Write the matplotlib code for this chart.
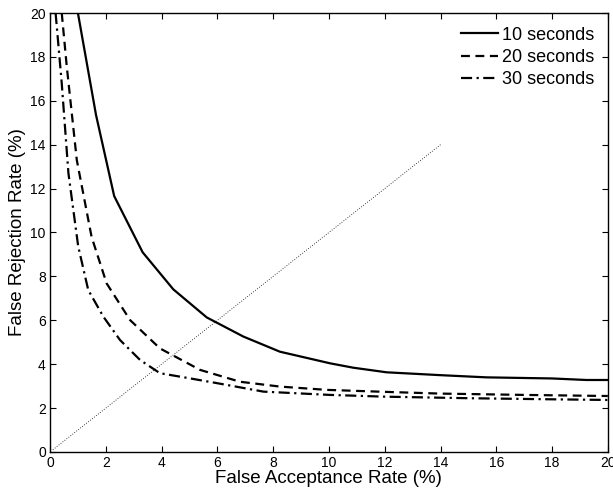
import matplotlib
matplotlib.use("Agg")
import matplotlib.pyplot as plt

plt.rcParams['font.family'] = ['Liberation Sans', 'DejaVu Sans']

# 10 seconds
far_10 = [1.0, 1.65, 2.3, 3.32, 4.42, 5.62, 6.93, 8.24, 10.04, 10.87, 12.07, 14.0, 15.65, 18.0, 19.23, 20.0]
frr_10 = [20.0, 15.35, 11.66, 9.1, 7.41, 6.13, 5.26, 4.57, 4.04, 3.84, 3.63, 3.5, 3.4, 3.35, 3.28, 3.28]

# 20 seconds
far_20 = [0.42, 0.6, 0.96, 1.49, 2.03, 2.87, 3.94, 5.38, 6.81, 8.24, 9.92, 12.0, 14.0, 17.0, 20.0]
frr_20 = [20.0, 17.57, 13.3, 9.8, 7.68, 6.01, 4.72, 3.74, 3.2, 2.98, 2.83, 2.74, 2.66, 2.6, 2.55]

# 30 seconds
far_30 = [0.2, 0.42, 0.66, 1.01, 1.37, 1.91, 2.51, 3.23, 3.94, 4.9, 5.97, 7.65, 10.04, 12.0, 15.0, 18.0, 20.0]
frr_30 = [20.0, 16.8, 12.7, 9.37, 7.38, 6.17, 5.1, 4.19, 3.59, 3.38, 3.14, 2.75, 2.6, 2.52, 2.45, 2.4, 2.37]

# equal error line
eer_line = [0.1, 14.0]

fig = plt.figure(figsize=(6.13, 4.93), dpi=100)
ax = fig.add_axes([0.0816, 0.0832, 0.910, 0.8904])

ax.plot(far_10, frr_10, color='black', linestyle='-', linewidth=1.6, label='10 seconds')
ax.plot(far_20, frr_20, color='black', linestyle=(0, (4, 2.5)), linewidth=1.6, label='20 seconds')
ax.plot(far_30, frr_30, color='black', linestyle=(0, (5, 2, 1, 2)), linewidth=1.6, label='30 seconds')
ax.plot(eer_line, eer_line, color='black', linestyle=(0, (1, 2)), linewidth=0.6)

ax.set_xlim(0, 20)
ax.set_ylim(0, 20)
ax.set_xticks(range(0, 21, 2))
ax.set_yticks(range(0, 21, 2))
ax.tick_params(direction='in', top=True, right=True, length=4, labelsize=10, pad=3)
for s in ax.spines.values():
    s.set_linewidth(1.0)

ax.set_xlabel('False Acceptance Rate (%)', fontsize=13.5, labelpad=0)
ax.set_ylabel('False Rejection Rate (%)', fontsize=13.5, labelpad=3)

ax.legend(loc='upper right', frameon=False, fontsize=13, handlelength=2.1,
          handletextpad=0.2, borderaxespad=0.35, labelspacing=0.3)

fig.savefig('out.png', dpi=100)
